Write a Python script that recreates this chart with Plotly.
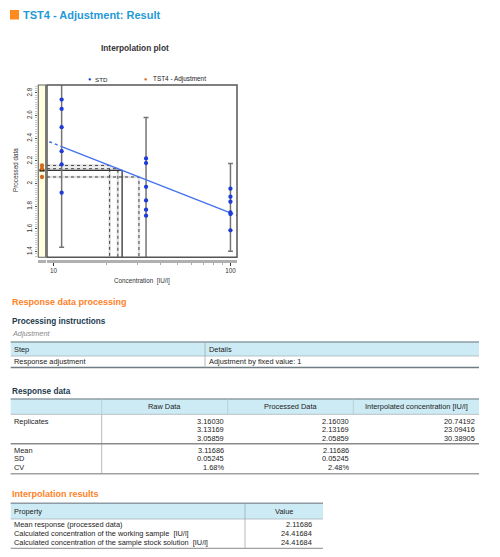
import numpy as np
import plotly.graph_objects as go

# page has an 8px body margin; figure fills the rest of the 500x557 window
OFF = 8
W, H = 484, 541
def X(p): return (p - OFF) / W
def Y(p): return 1 - (p - OFF) / H

# ---------------- data ----------------
std_levels = [11.11, 33.33, 100.0]
std_responses = [
    [2.741, 2.659, 2.498, 2.286, 2.169, 1.920],
    [2.222, 2.181, 1.972, 1.852, 1.770, 1.717],
    [1.955, 1.884, 1.840, 1.746, 1.732, 1.588],
]
std_err_half = [0.94, 0.63, 0.387]
fit_intercept = 2.968
fit_slope = -0.6132
fit_x_solid = [11.11, 100.0]
fit_x_left = [9.45, 11.11]
fit_x_right = [100.0, 110.0]

raw_reps = [3.16030, 3.13169, 3.05859]
proc_reps = [2.16030, 2.13169, 2.05859]
interp_conc = [20.74192, 23.09416, 30.38905]
stat_labels = ["Mean", "SD", "CV"]
raw_stats = [3.11686, 0.05245, 1.68]
proc_stats = [2.11686, 0.05245, 2.48]

proc_steps = ["Response adjustment"]
proc_details = ["Adjustment by fixed value: 1"]

result_props = ["Mean response (processed data)",
                "Calculated concentration of the working sample\u00a0\u00a0[IU/l]",
                "Calculated concentration of the sample stock solution\u00a0\u00a0[IU/l]"]
result_vals = [2.11686, 24.41684, 24.41684]

x_tick_vals = [10, 100]
x_minor_vals = [20, 30, 40, 50, 60, 70, 80, 90]
y_tick_vals = [1.4, 1.6, 1.8, 2.0, 2.2, 2.4, 2.6, 2.8]
y_tick_text = ["1.4", "1.6", "1.8", "2", "2.2", "2.4", "2.6", "2.8"]

x_range = [0.963, 2.037]
y_range = [1.35, 2.87]

# ---------------- colours ----------------
BLUE_PT = "#1E3CD8"
LINE_BLUE = "#4673EE"
ORANGE_PT = "#D2691E"
GUIDE = "#444444"
FONT = "Arial, Liberation Sans, sans-serif"

fig = go.Figure()

x_left = 10 ** x_range[0]
y_bot = y_range[0]

# interpolation guides for replicates
for r, c in zip(proc_reps, interp_conc):
    fig.add_trace(go.Scatter(x=[x_left, c, c], y=[r, r, y_bot], mode="lines",
                             line=dict(color="#e2e2e2", width=2.5), hoverinfo="skip",
                             xaxis="x", yaxis="y"))
for r, c in zip(proc_reps, interp_conc):
    fig.add_trace(go.Scatter(x=[x_left, c, c], y=[r, r, y_bot], mode="lines",
                             line=dict(color=GUIDE, width=1, dash="dot"), hoverinfo="skip",
                             xaxis="x", yaxis="y"))
# mean guide
fig.add_trace(go.Scatter(x=[x_left, result_vals[1], result_vals[1]],
                         y=[proc_stats[0], proc_stats[0], y_bot], mode="lines",
                         line=dict(color="#333333", width=1.3), hoverinfo="skip",
                         xaxis="x", yaxis="y"))

# error bars
means = [float(np.mean(v)) for v in std_responses]
fig.add_trace(go.Scatter(x=std_levels, y=means, mode="markers",
                         marker=dict(size=1, color="rgba(0,0,0,0)"),
                         error_y=dict(type="data", array=std_err_half, symmetric=True,
                                      color="#747474", thickness=1.5, width=2.5),
                         xaxis="x", yaxis="y"))

# fit line
def fit(xs):
    return [fit_intercept + fit_slope * np.log10(v) for v in xs]
fig.add_trace(go.Scatter(x=fit_x_solid, y=fit(fit_x_solid), mode="lines",
                         line=dict(color=LINE_BLUE, width=1.5), xaxis="x", yaxis="y"))
for xs in (fit_x_left, fit_x_right):
    fig.add_trace(go.Scatter(x=xs, y=fit(xs), mode="lines",
                             line=dict(color=LINE_BLUE, width=1.5, dash="dot"),
                             xaxis="x", yaxis="y"))

# STD points
sx, sy = [], []
for lv, vals in zip(std_levels, std_responses):
    sx += [lv] * len(vals)
    sy += vals
fig.add_trace(go.Scatter(x=sx, y=sy, mode="markers", name="STD",
                         marker=dict(size=4.3, color=BLUE_PT), xaxis="x", yaxis="y"))

# sample strip
fig.add_trace(go.Scatter(x=[0.15, 0.85], y=[proc_stats[0]] * 2, mode="lines",
                         line=dict(color="black", width=2.2), xaxis="x2", yaxis="y"))
fig.add_trace(go.Scatter(x=[0.5] * len(proc_reps), y=proc_reps, mode="markers",
                         name="TST4 - Adjustment",
                         marker=dict(size=4.3, color=ORANGE_PT), xaxis="x2", yaxis="y"))

# ---------------- axes ----------------
fig.update_layout(
    width=W, height=H, margin=dict(l=0, r=0, t=0, b=0),
    paper_bgcolor="white", plot_bgcolor="white", showlegend=False,
    font=dict(family=FONT, color="#222"),
    xaxis=dict(type="log", range=x_range, domain=[X(47), X(237)],
               anchor="free", position=Y(260.5),
               tickmode="array", tickvals=x_tick_vals, ticktext=["10", "100"],
               ticks="outside", ticklen=3, tickcolor="#333", tickwidth=1,
               showline=True, linecolor="#b0b0b0", linewidth=3,
               showgrid=False, zeroline=False,
               tickfont=dict(size=6.3, color="#333"),
               minor=dict(tickmode="array", tickvals=x_minor_vals, ticks="outside",
                          ticklen=2, tickcolor="#aaa", showgrid=False)),
    xaxis2=dict(range=[0, 1], domain=[X(38.3), X(45.7)], anchor="free",
                position=Y(260.5), showline=True, linecolor="#b0b0b0", linewidth=3,
                showticklabels=False, ticks="", showgrid=False, zeroline=False),
    yaxis=dict(range=y_range, domain=[Y(257.3), Y(85)], anchor="free",
               position=X(36.5), tickmode="array", tickvals=y_tick_vals,
               ticktext=y_tick_text, tickangle=-90, ticks="outside", ticklen=2,
               tickcolor="#555", showline=True, linecolor="#cfcfcf", linewidth=1,
               showgrid=False, zeroline=False,
               tickfont=dict(size=6.3, color="#333"),
               minor=dict(dtick=0.02, ticks="outside", ticklen=2, tickcolor="#c8c8c8",
                          showgrid=False)),
)

shapes = []
# strip background and borders
shapes.append(dict(type="rect", xref="x2 domain", yref="y domain", x0=0, x1=1, y0=0, y1=1,
                   fillcolor="#FFFFE0", line=dict(color="#666", width=1.1), layer="below"))
shapes.append(dict(type="rect", xref="x domain", yref="y domain", x0=0, x1=1, y0=0, y1=1,
                   fillcolor="rgba(0,0,0,0)", line=dict(color="#555", width=1.5), layer="above"))

def hline(y, x0, x1, color, width):
    shapes.append(dict(type="line", xref="paper", yref="paper", x0=X(x0), x1=X(x1),
                       y0=Y(y), y1=Y(y), line=dict(color=color, width=width)))
def vline(x, y0, y1, color, width):
    shapes.append(dict(type="line", xref="paper", yref="paper", x0=X(x), x1=X(x),
                       y0=Y(y0), y1=Y(y1), line=dict(color=color, width=width)))
def frect(x0, y0, x1, y1, color):
    shapes.append(dict(type="rect", xref="paper", yref="paper", x0=X(x0), x1=X(x1),
                       y0=Y(y1), y1=Y(y0), fillcolor=color, line=dict(width=0), layer="below"))

HDR = "#CDEBF4"
# orange square by title
shapes.append(dict(type="rect", xref="paper", yref="paper", x0=X(10), x1=X(19),
                   y0=Y(19.5), y1=Y(10), fillcolor="#FF8A1E", line=dict(width=0)))

# table 1
frect(10.7, 342, 479, 356, HDR)
hline(342, 10.7, 479, "#8C9BA5", 1.5)
hline(356, 10.7, 479, "#A9B4BA", 0.8)
hline(367.5, 10.7, 479, "#6F7C84", 1.5)
vline(205, 342, 367.5, "#A0AAB0", 0.8)
# table 2
frect(10.7, 399, 479, 414.3, HDR)
hline(399, 10.7, 479, "#8C9BA5", 1.5)
hline(414.3, 10.7, 479, "#A9B4BA", 0.8)
for xv in (101.7, 227.7, 353.3):
    vline(xv, 399, 414.3, "#B5C8CF", 0.8)
vline(101.7, 414.3, 473.7, "#BBBBBB", 1)
hline(443.7, 10.7, 479, "#8A8A8A", 1.5)
hline(473.7, 10.7, 479, "#A0A0A0", 1.5)
# table 3
frect(10.7, 503.3, 323, 519, HDR)
hline(503.3, 10.7, 323, "#8C9BA5", 1.5)
hline(519, 10.7, 323, "#A9B4BA", 0.8)
hline(548.5, 10.7, 323, "#A0A0A0", 1.5)
vline(245, 503.3, 548.5, "#A0AAB0", 0.8)

ann = []
def txt(x, y, s, size=7.4, color="#222", anchor="left", angle=0):
    ann.append(dict(x=X(x), y=Y(y), xref="paper", yref="paper", text=s, showarrow=False,
                    xanchor=anchor, yanchor="middle", textangle=angle,
                    font=dict(family=FONT, size=size, color=color)))

txt(21, 15, "<b>TST4 - Adjustment: Result</b>", 11, "#1F9AD6")
txt(135.5, 48, "<b>Interpolation plot</b>", 8.3, "#333", "center")
# legend
txt(89, 79, "●", 5.5, BLUE_PT, "center")
txt(93, 79, "STD", 6.2, "#222")
txt(145.7, 79, "●", 5.5, ORANGE_PT, "center")
txt(150.5, 79, "TST4 - Adjustment", 6.4, "#222")
# axis titles
txt(141.7, 281, "Concentration\u00a0\u00a0[IU/l]", 6.3, "#333", "center")
txt(15, 170, "Processed data", 6.3, "#333", "center", -90)

# sections
txt(10, 302, "<b>Response data processing</b>", 9, "#FF7F27")
txt(10, 321.7, "<b>Processing instructions</b>", 8.2, "#1C3A4E")
txt(10, 333.3, "<i>Adjustment</i>", 7.3, "#888")
txt(12, 349, "Step")
txt(207, 349, "Details")
for i, (s, d) in enumerate(zip(proc_steps, proc_details)):
    txt(12, 361.7 + 11 * i, s)
    txt(207, 361.7 + 11 * i, d)

txt(10, 391, "<b>Response data</b>", 8.2, "#1C3A4E")
txt(164.7, 406.5, "Raw Data", anchor="center")
txt(290.5, 406.5, "Processed Data", anchor="center")
txt(416, 406.5, "Interpolated concentration [IU/l]", anchor="center")
txt(12, 421, "Replicates")
rep_y = [421, 429.5, 438]
for yv, a, b, c in zip(rep_y, raw_reps, proc_reps, interp_conc):
    txt(225.5, yv, f"{a:.5f}", anchor="right")
    txt(351, yv, f"{b:.5f}", anchor="right")
    txt(476.5, yv, f"{c:.5f}", anchor="right")
stat_y = [450.3, 458.7, 467]
for k, (yv, lab) in enumerate(zip(stat_y, stat_labels)):
    txt(12, yv, lab)
    if lab == "CV":
        txt(225.5, yv, f"{raw_stats[k]:.2f}%", anchor="right")
        txt(351, yv, f"{proc_stats[k]:.2f}%", anchor="right")
    else:
        txt(225.5, yv, f"{raw_stats[k]:.5f}", anchor="right")
        txt(351, yv, f"{proc_stats[k]:.5f}", anchor="right")

txt(10, 494, "<b>Interpolation results</b>", 9, "#FF7F27")
txt(12, 511, "Property")
txt(284, 511, "Value", anchor="center")
res_y = [524.7, 533.3, 542]
for yv, p, v in zip(res_y, result_props, result_vals):
    txt(12, yv, p)
    txt(314, yv, f"{v:.5f}", anchor="right")

fig.update_layout(shapes=shapes, annotations=ann)
fig.write_html("out.html")
